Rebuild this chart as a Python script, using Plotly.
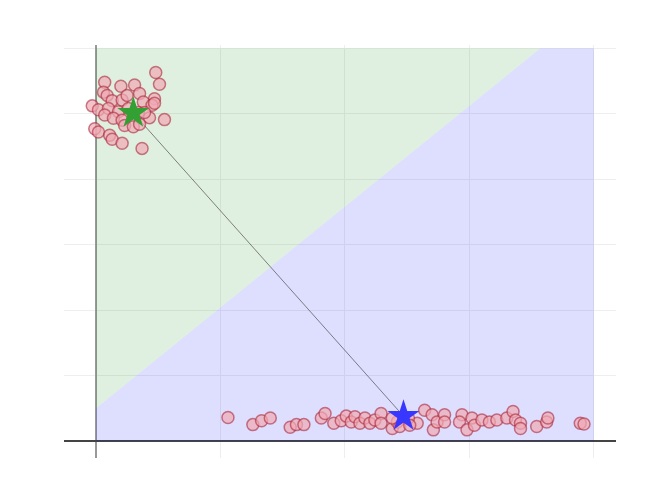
import plotly.graph_objects as go

# Top cluster (class A) points
top_x = [0.48, 0.51, 0.07, 0.20, 0.31, 0.06, 0.09, 0.35, 0.47, 0.13, 0.21, -0.03, 0.02, 0.10,
         0.18, 0.38, 0.45, 0.47, 0.07, 0.14, 0.21, 0.43, 0.55, 0.23, 0.30, 0.35, -0.01, 0.02,
         0.11, 0.13, 0.21, 0.37, 0.26, 0.34, 0.39, 0.25]
top_y = [5.63, 5.45, 5.48, 5.42, 5.44, 5.33, 5.28, 5.31, 5.23, 5.20, 5.21, 5.12, 5.06, 5.08,
         5.03, 5.18, 5.13, 5.16, 4.98, 4.93, 4.90, 4.94, 4.91, 4.82, 4.80, 4.84, 4.77, 4.72,
         4.67, 4.61, 4.55, 4.47, 5.08, 5.02, 5.02, 5.28]

# Bottom cluster (class B) points
bot_x = [1.06, 1.26, 1.33, 1.40, 1.56, 1.61, 1.67, 1.81, 1.84, 1.91, 1.97, 2.01, 2.05, 2.08,
         2.12, 2.16, 2.20, 2.24, 2.29, 2.29, 2.38, 2.42, 2.44, 2.64, 2.58, 2.70, 2.71, 2.74,
         2.80, 2.80, 2.94, 2.92, 2.98, 3.02, 3.04, 3.10, 3.16, 3.22, 3.30, 3.35, 3.37, 3.41,
         3.41, 3.54, 3.62, 3.63, 3.89, 3.92, 2.38, 2.51, 2.52]
bot_y = [0.36, 0.25, 0.31, 0.35, 0.21, 0.25, 0.25, 0.35, 0.42, 0.27, 0.31, 0.38, 0.29, 0.37,
         0.27, 0.35, 0.27, 0.32, 0.42, 0.27, 0.19, 0.29, 0.22, 0.47, 0.27, 0.40, 0.17, 0.29,
         0.40, 0.29, 0.40, 0.29, 0.17, 0.35, 0.24, 0.32, 0.29, 0.32, 0.35, 0.45, 0.32, 0.27,
         0.19, 0.22, 0.29, 0.35, 0.27, 0.26, 0.35, 0.35, 0.24]

# Centroids
centroid_x = [0.30, 2.47]
centroid_y = [5.01, 0.38]

# Decision regions
green_region_x = [0, 3.57, 0, 0]
green_region_y = [0.5, 6, 6, 0.5]
blue_region_x = [0, 4, 4, 3.57, 0, 0]
blue_region_y = [0, 0, 6, 6, 0.5, 0]

fig = go.Figure()
fig.add_trace(go.Scatter(x=green_region_x, y=green_region_y, mode="lines", fill="toself",
                         fillcolor="rgba(0,128,0,0.12)", line=dict(width=0), hoverinfo="skip"))
fig.add_trace(go.Scatter(x=blue_region_x, y=blue_region_y, mode="lines", fill="toself",
                         fillcolor="rgba(0,0,255,0.13)", line=dict(width=0), hoverinfo="skip"))
fig.add_trace(go.Scatter(x=centroid_x, y=centroid_y, mode="lines",
                         line=dict(color="rgba(80,80,80,0.7)", width=1)))
marker = dict(size=12, color="rgba(240,170,180,0.7)",
              line=dict(color="rgba(170,40,60,0.6)", width=1.5))
fig.add_trace(go.Scatter(x=top_x, y=top_y, mode="markers", marker=marker))
fig.add_trace(go.Scatter(x=bot_x, y=bot_y, mode="markers", marker=marker))
fig.add_trace(go.Scatter(x=[centroid_x[0]], y=[centroid_y[0]], mode="markers",
                         marker=dict(symbol="star", size=24, color="rgb(50,160,50)",
                                     line=dict(width=0))))
fig.add_trace(go.Scatter(x=[centroid_x[1]], y=[centroid_y[1]], mode="markers",
                         marker=dict(symbol="star", size=24, color="rgb(55,55,255)",
                                     line=dict(width=0))))

fig.update_layout(
    width=644, height=469, showlegend=False,
    paper_bgcolor="white", plot_bgcolor="white",
    margin=dict(l=56, r=36, t=37, b=19),
    xaxis=dict(range=[-0.257, 4.177], dtick=1, showticklabels=False, ticks="",
               showgrid=True, gridcolor="#eeeeee", gridwidth=1,
               zeroline=True, zerolinecolor="#999999", zerolinewidth=2, showline=False),
    yaxis=dict(range=[-0.26, 6.05], dtick=1, showticklabels=False, ticks="",
               showgrid=True, gridcolor="#eeeeee", gridwidth=1,
               zeroline=True, zerolinecolor="#444444", zerolinewidth=2, showline=False),
)
fig.write_html("out.html")
